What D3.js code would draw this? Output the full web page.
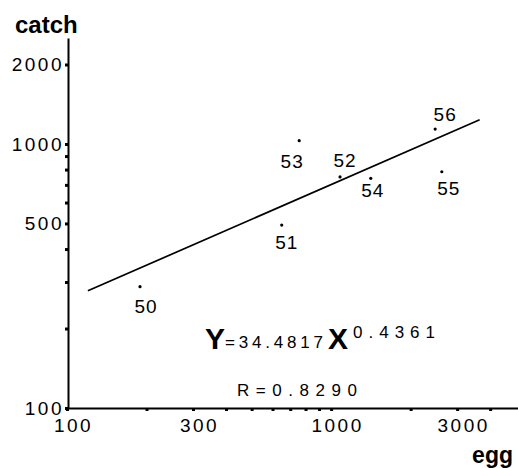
<!DOCTYPE html>
<html>
<head>
<meta charset="utf-8">
<script src="https://cdn.jsdelivr.net/npm/d3@7"></script>
<style>
  body { margin: 0; background: #fff; }
  svg { display: block; font-family: "Liberation Sans", Arial, sans-serif; }
</style>
</head>
<body>
<div id="wrapper"></div>
<script>
// dados (escala log-log)
const years = ["50", "51", "52", "53", "54", "55", "56"];
const eggs = [189, 650, 1081, 757, 1413, 2625, 2477];
const catches = [288, 493, 750, 1029, 741, 785, 1139];

// reta de regressao: extremos
const fitEgg = [120, 3650];
const fitCatch = [278, 1235];

const xTicks = [100, 200, 300, 400, 500, 600, 700, 800, 900, 1000, 2000, 3000, 4000];
const xTickLabels = [100, 300, 1000, 3000];
const yTicks = [100, 200, 300, 400, 500, 600, 700, 800, 900, 1000, 2000];
const yTickLabels = [100, 500, 1000, 2000];

const equation = { a: "34.4817", b: "0.4361", r: "0.8290" };

function draw() {
  const width = 518, height = 468;

  const svg = d3.select("#wrapper")
    .append("svg")
      .attr("width", width)
      .attr("height", height);

  const x = d3.scaleLog().domain([100, 5100]).range([67, 518]);
  const y = d3.scaleLog().domain([100, 2520]).range([408, 38]);

  // eixo x
  const xAxis = d3.axisBottom(x)
    .tickValues(xTicks)
    .tickSize(3)
    .tickSizeOuter(0)
    .tickPadding(8)
    .tickFormat(d => xTickLabels.includes(d) ? d : "");
  const gx = svg.append("g")
    .attr("transform", "translate(0,408)")
    .call(xAxis);
  gx.select(".domain").attr("stroke-width", 2);
  gx.selectAll(".tick line").attr("stroke-width", 3);
  gx.selectAll(".tick text")
    .attr("font-size", 19)
    .attr("font-family", "Liberation Sans, Arial, sans-serif")
    .attr("letter-spacing", 2.5)
    .attr("dx", 6)
    .attr("fill", "#000");

  // eixo y
  const yAxis = d3.axisLeft(y)
    .tickValues(yTicks)
    .tickSize(3)
    .tickSizeOuter(0)
    .tickPadding(1)
    .tickFormat(d => yTickLabels.includes(d) ? d : "");
  const gy = svg.append("g")
    .attr("transform", "translate(68,0)")
    .call(yAxis);
  gy.select(".domain").attr("stroke-width", 2);
  gy.selectAll(".tick line").attr("stroke-width", 3);
  gy.selectAll(".tick text")
    .attr("font-size", 19)
    .attr("font-family", "Liberation Sans, Arial, sans-serif")
    .attr("letter-spacing", 2.5)
    .attr("fill", "#000");

  // titulos dos eixos
  svg.append("text")
    .attr("x", 15).attr("y", 33)
    .attr("font-size", 24).attr("font-weight", "bold")
    .text("catch");
  svg.append("text")
    .attr("x", 513).attr("y", 463)
    .attr("text-anchor", "end")
    .attr("font-size", 23).attr("font-weight", "bold")
    .text("egg");

  // reta ajustada
  const fit = fitEgg.map((e, i) => [x(e), y(fitCatch[i])]);
  svg.append("path")
    .attr("d", d3.line()(fit))
    .attr("stroke", "#000")
    .attr("stroke-width", 1.7)
    .attr("fill", "none");

  // pontos
  const points = years.map((yr, i) => ({ year: yr, egg: eggs[i], catch: catches[i] }));
  svg.append("g").selectAll("circle")
    .data(points)
    .join("circle")
      .attr("cx", d => x(d.egg))
      .attr("cy", d => y(d.catch))
      .attr("r", 1.6)
      .attr("fill", "#000");

  // deslocamento dos rotulos em relacao ao ponto
  const labelOffset = {
    "50": [6, 20], "51": [5, 17], "52": [5, -17], "53": [-7, 21],
    "54": [2, 12], "55": [7, 17], "56": [10, -15]
  };
  svg.append("g").selectAll("text")
    .data(points)
    .join("text")
      .attr("x", d => x(d.egg) + labelOffset[d.year][0])
      .attr("y", d => y(d.catch) + labelOffset[d.year][1])
      .attr("dy", "0.35em")
      .attr("text-anchor", "middle")
      .attr("font-size", 19)
      .attr("letter-spacing", 1)
      .text(d => d.year);

  // equacao
  svg.append("text")
    .attr("x", 205).attr("y", 349)
    .attr("font-size", 30).attr("font-weight", "bold")
    .text("Y");
  svg.append("text")
    .attr("x", 225).attr("y", 348)
    .attr("font-size", 17)
    .attr("textLength", 98).attr("lengthAdjust", "spacing")
    .text("=" + equation.a);
  svg.append("text")
    .attr("x", 328).attr("y", 349)
    .attr("font-size", 30).attr("font-weight", "bold")
    .text("X");
  svg.append("text")
    .attr("x", 353).attr("y", 338)
    .attr("font-size", 17)
    .attr("textLength", 82).attr("lengthAdjust", "spacing")
    .text(equation.b);

  svg.append("text")
    .attr("x", 237).attr("y", 396)
    .attr("font-size", 17)
    .attr("textLength", 120).attr("lengthAdjust", "spacing")
    .text("R=" + equation.r);
}
draw();
</script>
</body>
</html>
